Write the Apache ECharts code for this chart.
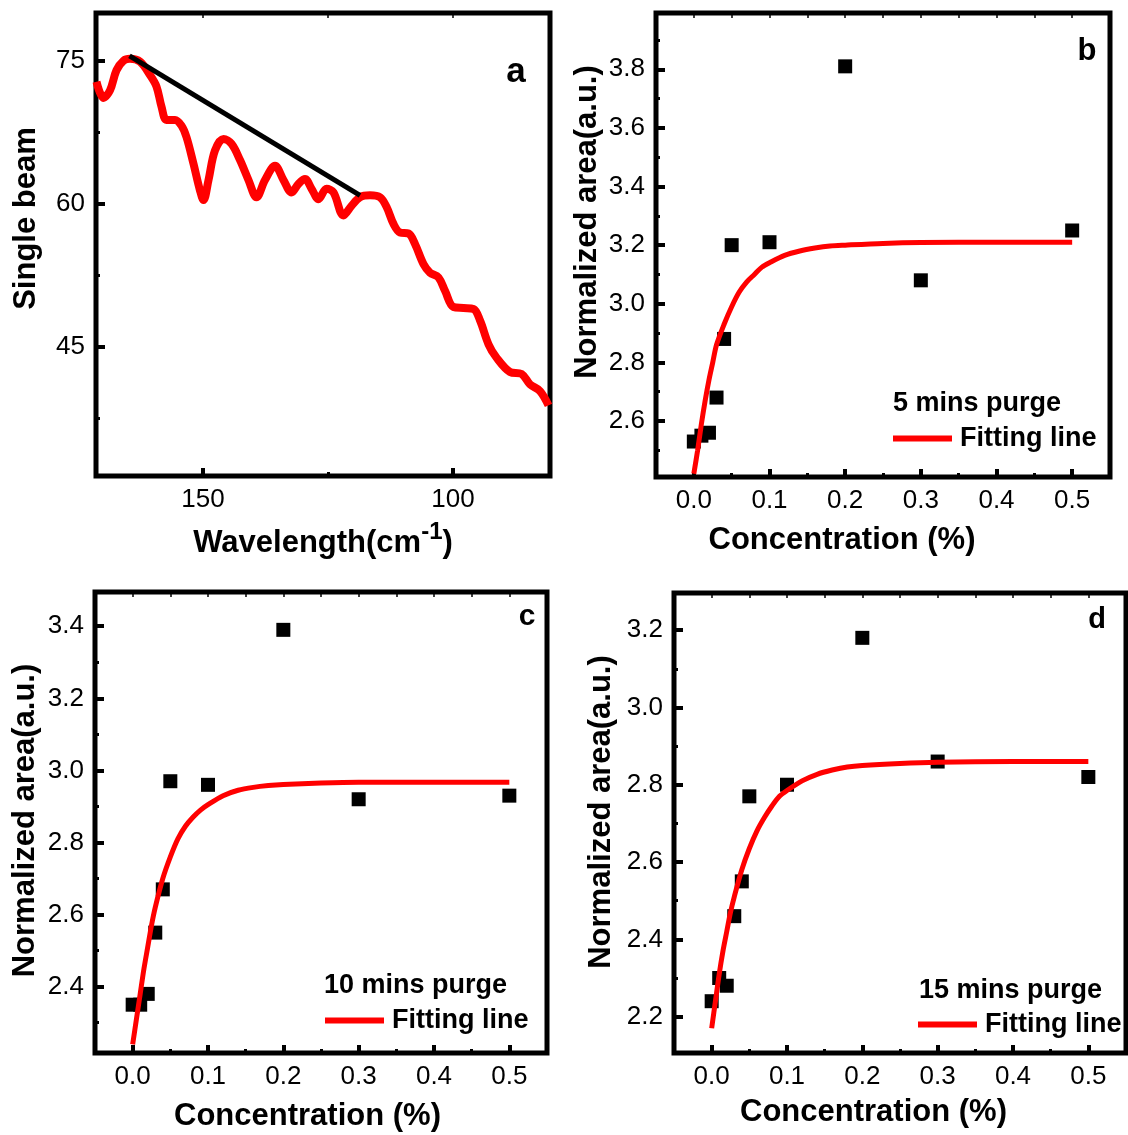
<!DOCTYPE html>
<html><head><meta charset="utf-8">
<script src="https://cdn.jsdelivr.net/npm/echarts@6/dist/echarts.min.js"></script>
<style>html,body{margin:0;padding:0;background:#fff}#c{width:1128px;height:1135px}</style>
</head><body><div id="c"></div>
<script>
// ---------- Panel a: single beam spectrum ----------
const waveNumber = [171.3,169.9,168.6,167.3,165.9,164.6,162.6,160.6,159.3,158.3,157.3,155.6,154.3,153.3,151.9,150.6,149.9,148.9,147.6,145.9,144.3,142.6,140.9,139.3,137.6,135.6,133.9,132.3,130.9,129.6,128.3,126.9,125.3,123.9,121.9,120.3,118.6,116.6,114.6,113.3,111.9,110.6,108.9,107.6,105.9,104.6,102.9,101.6,99.9,97.9,95.9,94.6,92.9,91.3,88.6,86.3,84.6,82.6,80.9];
const singleBeam = [72.8,71.1,71.9,74.0,75.0,75.2,74.9,73.5,72.3,70.2,68.8,68.8,68.2,67.0,64.2,61.4,60.4,62.5,65.6,66.8,66.3,64.6,62.5,60.7,62.5,64.0,62.5,61.2,62.1,62.6,61.6,60.5,61.6,61.2,58.8,59.8,60.7,60.9,60.7,59.7,57.9,57.0,56.9,55.8,53.7,52.8,52.3,50.9,49.2,49.1,49.0,47.8,45.3,43.9,42.4,42.2,41.1,40.4,38.9];
const trendWave = [164.7,118.6];
const trendBeam = [75.5,60.9];
const waveMajorTicks = [150,100];
const waveMinorTicks = [125];
const beamMajorTicks = [75,60,45];
const beamMinorTicks = [67.5,52.5,37.5];

// ---------- Panels b, c, d: normalized area vs concentration ----------
const concentration = [0,0.01,0.02,0.03,0.04,0.05,0.1,0.2,0.3,0.5];
const area5min  = [2.53,2.55,2.56,2.68,2.88,3.20,3.21,3.81,3.08,3.25];
const area10min = [2.35,2.35,2.38,2.55,2.67,2.97,2.96,3.39,2.92,2.93];
const area15min = [2.24,2.30,2.28,2.46,2.55,2.77,2.80,3.18,2.86,2.82];
const fitConc   = [0,0.005,0.01,0.015,0.02,0.025,0.03,0.04,0.05,0.06,0.07,0.08,0.09,0.1,0.12,0.14,0.16,0.18,0.2,0.25,0.3,0.4,0.5];
const fit5min   = [2.42,2.50,2.59,2.67,2.74,2.80,2.86,2.93,2.99,3.04,3.075,3.10,3.125,3.14,3.165,3.18,3.19,3.197,3.20,3.206,3.209,3.21,3.21];
const fit10min  = [2.24,2.31,2.38,2.45,2.51,2.57,2.62,2.70,2.76,2.81,2.845,2.87,2.89,2.905,2.93,2.945,2.953,2.958,2.961,2.965,2.967,2.967,2.967];
const fit15min  = [2.17,2.24,2.31,2.37,2.42,2.47,2.51,2.58,2.635,2.68,2.715,2.745,2.77,2.785,2.81,2.827,2.838,2.846,2.85,2.855,2.858,2.86,2.86];
const concMajorTicks = [0,0.1,0.2,0.3,0.4,0.5];
const concMinorTicks = [0.05,0.15,0.25,0.35,0.45];
const areaMajorB = [2.6,2.8,3.0,3.2,3.4,3.6,3.8];
const areaMinorB = [2.5,2.7,2.9,3.1,3.3,3.5,3.7,3.9];
const areaMajorC = [2.4,2.6,2.8,3.0,3.2,3.4];
const areaMinorC = [2.3,2.5,2.7,2.9,3.1,3.3];
const areaMajorD = [2.2,2.4,2.6,2.8,3.0,3.2];
const areaMinorD = [2.3,2.5,2.7,2.9,3.1];
const legendTitles = ['5 mins purge','10 mins purge','15 mins purge'];
const panelLetters = ['a','b','c','d'];

const FONT = 'Liberation Sans';
const black = '#000';
const red = '#ff0000';

const panels = [
  {grid:{left:96,top:13,width:454,height:463},
   x:{min:80.6,max:171.4,inverse:true,major:waveMajorTicks,minor:waveMinorTicks,dec:0,
      name:'{t|Wavelength(cm}{s|-1}{t|)}',gap:44,pad:[0,0,0,0]},
   y:{min:31.5,max:80,major:beamMajorTicks,minor:beamMinorTicks,dec:0,name:'Single beam',gap:54,pad:[0,0,0,52]}},
  {grid:{left:656,top:13,width:454,height:464},
   x:{min:-0.05,max:0.55,major:concMajorTicks,minor:concMinorTicks,dec:1,name:'Concentration (%)',gap:48,pad:[0,82,0,0]},
   y:{min:2.409,max:3.992,major:areaMajorB,minor:areaMinorB,dec:1,name:'Normalized area(a.u.)',gap:53,pad:[0,0,0,46]}},
  {grid:{left:95,top:592,width:452,height:461},
   x:{min:-0.05,max:0.55,major:concMajorTicks,minor:concMinorTicks,dec:1,name:'Concentration (%)',gap:48,pad:[0,27,0,0]},
   y:{min:2.216,max:3.495,major:areaMajorC,minor:areaMinorC,dec:1,name:'Normalized area(a.u.)',gap:54,pad:[0,0,0,4]}},
  {grid:{left:674,top:593,width:452,height:460},
   x:{min:-0.05,max:0.55,major:concMajorTicks,minor:concMinorTicks,dec:1,name:'Concentration (%)',gap:44,pad:[0,53,0,0]},
   y:{min:2.106,max:3.296,major:areaMajorD,minor:areaMinorD,dec:1,name:'Normalized area(a.u.)',gap:57,pad:[0,0,0,22]}}
];

const grids = [], xAxes = [], yAxes = [];
const nameStyle = {fontFamily:FONT,fontSize:31,fontWeight:'bold',color:black};
const noLine = {show:false,onZero:false};
panels.forEach((p,gi)=>{
  grids.push(Object.assign({show:true,borderColor:black,borderWidth:5,backgroundColor:'transparent'},p.grid));
  const xBase = {type:'value',gridIndex:gi,min:p.x.min,max:p.x.max,inverse:!!p.x.inverse,
    splitLine:{show:false},axisLine:noLine};
  xAxes.push(Object.assign({},xBase,{position:'bottom',
    name:p.x.name,nameLocation:'middle',nameGap:p.x.gap,
    nameTextStyle:Object.assign({},nameStyle,{padding:p.x.pad,
      rich:{t:{fontFamily:FONT,fontSize:31,fontWeight:'bold',color:black},
            s:{fontFamily:FONT,fontSize:24,fontWeight:'bold',color:black,padding:[0,0,22,0]}}}),
    axisTick:{show:true,inside:true,length:8,lineStyle:{width:4,color:black},customValues:p.x.major},
    axisLabel:{show:true,margin:11,fontFamily:FONT,fontSize:26,color:black,customValues:p.x.major,
      formatter:v=>Number(v).toFixed(p.x.dec)}}));
  xAxes.push(Object.assign({},xBase,{position:'bottom',
    axisTick:{show:true,inside:true,length:4,lineStyle:{width:3,color:black},customValues:p.x.minor},
    axisLabel:{show:false}}));
  xAxes.push(Object.assign({},xBase,{position:'top',
    axisTick:{show:true,inside:true,length:5,lineStyle:{width:1.5,color:black},customValues:p.x.major.concat(p.x.minor)},
    axisLabel:{show:false}}));
  const yBase = {type:'value',gridIndex:gi,min:p.y.min,max:p.y.max,
    splitLine:{show:false},axisLine:noLine};
  yAxes.push(Object.assign({},yBase,{position:'left',
    name:p.y.name,nameLocation:'middle',nameGap:p.y.gap,
    nameTextStyle:Object.assign({},nameStyle,{padding:p.y.pad}),
    axisTick:{show:true,inside:true,length:9,lineStyle:{width:4,color:black},customValues:p.y.major},
    axisLabel:{show:true,margin:11,fontFamily:FONT,fontSize:26,color:black,customValues:p.y.major,
      formatter:v=>Number(v).toFixed(p.y.dec)}}));
  yAxes.push(Object.assign({},yBase,{position:'left',
    axisTick:{show:true,inside:true,length:4,lineStyle:{width:3,color:black},customValues:p.y.minor},
    axisLabel:{show:false}}));
});

const series = [
  {name:'Single beam',type:'line',xAxisIndex:0,yAxisIndex:0,smooth:0.35,showSymbol:false,
   lineStyle:{color:red,width:8},itemStyle:{color:red},z:2,
   data:waveNumber.map((x,i)=>[x,singleBeam[i]])},
  {name:'Trend',type:'line',xAxisIndex:0,yAxisIndex:0,showSymbol:false,
   lineStyle:{color:black,width:5},itemStyle:{color:black},z:3,
   data:trendWave.map((x,i)=>[x,trendBeam[i]])}
];
const areaSets = [area5min,area10min,area15min];
const fitSets = [fit5min,fit10min,fit15min];
[1,2,3].forEach((gi,k)=>{
  series.push({name:legendTitles[k],type:'scatter',xAxisIndex:gi*3,yAxisIndex:gi*2,
    symbol:'rect',symbolSize:14,itemStyle:{color:black,opacity:1},z:2,
    data:concentration.map((x,i)=>[x,areaSets[k][i]])});
  series.push({name:'Fitting line',type:'line',xAxisIndex:gi*3,yAxisIndex:gi*2,smooth:0.3,showSymbol:false,
    lineStyle:{color:red,width:5},itemStyle:{color:red},z:3,
    data:fitConc.map((x,i)=>[x,fitSets[k][i]])});
});

const legendPos = [{left:893,top:425},{left:325,top:1007},{left:918,top:1011}];
const legends = legendPos.map(pos=>({
  left:pos.left,top:pos.top,padding:0,data:['Fitting line'],icon:'rect',itemWidth:59,itemHeight:6,
  selectedMode:false,textStyle:{fontFamily:FONT,fontSize:27,fontWeight:'bold',color:black,padding:[0,0,0,3]}
}));

const txt = (t,x,y,size,align,va)=>({type:'text',x:x,y:y,silent:true,
  style:{text:t,fontFamily:FONT,fontSize:size,fontWeight:'bold',fill:black,align:align||'left',verticalAlign:va||'middle'}});
const graphics = [
  txt(panelLetters[0],516,72,35,'center'),
  txt(panelLetters[1],1087,51,31,'center'),
  txt(panelLetters[2],527,617,30,'center'),
  txt(panelLetters[3],1097,620,29,'center'),
  txt(legendTitles[0],893,404,27),
  txt(legendTitles[1],324,986,27),
  txt(legendTitles[2],919,991,27)
];

const chart = echarts.init(document.getElementById('c'),null,{renderer:'canvas'});
chart.setOption({animation:false,backgroundColor:'#fff',
  grid:grids,xAxis:xAxes,yAxis:yAxes,series:series,legend:legends,graphic:graphics});
</script></body></html>
